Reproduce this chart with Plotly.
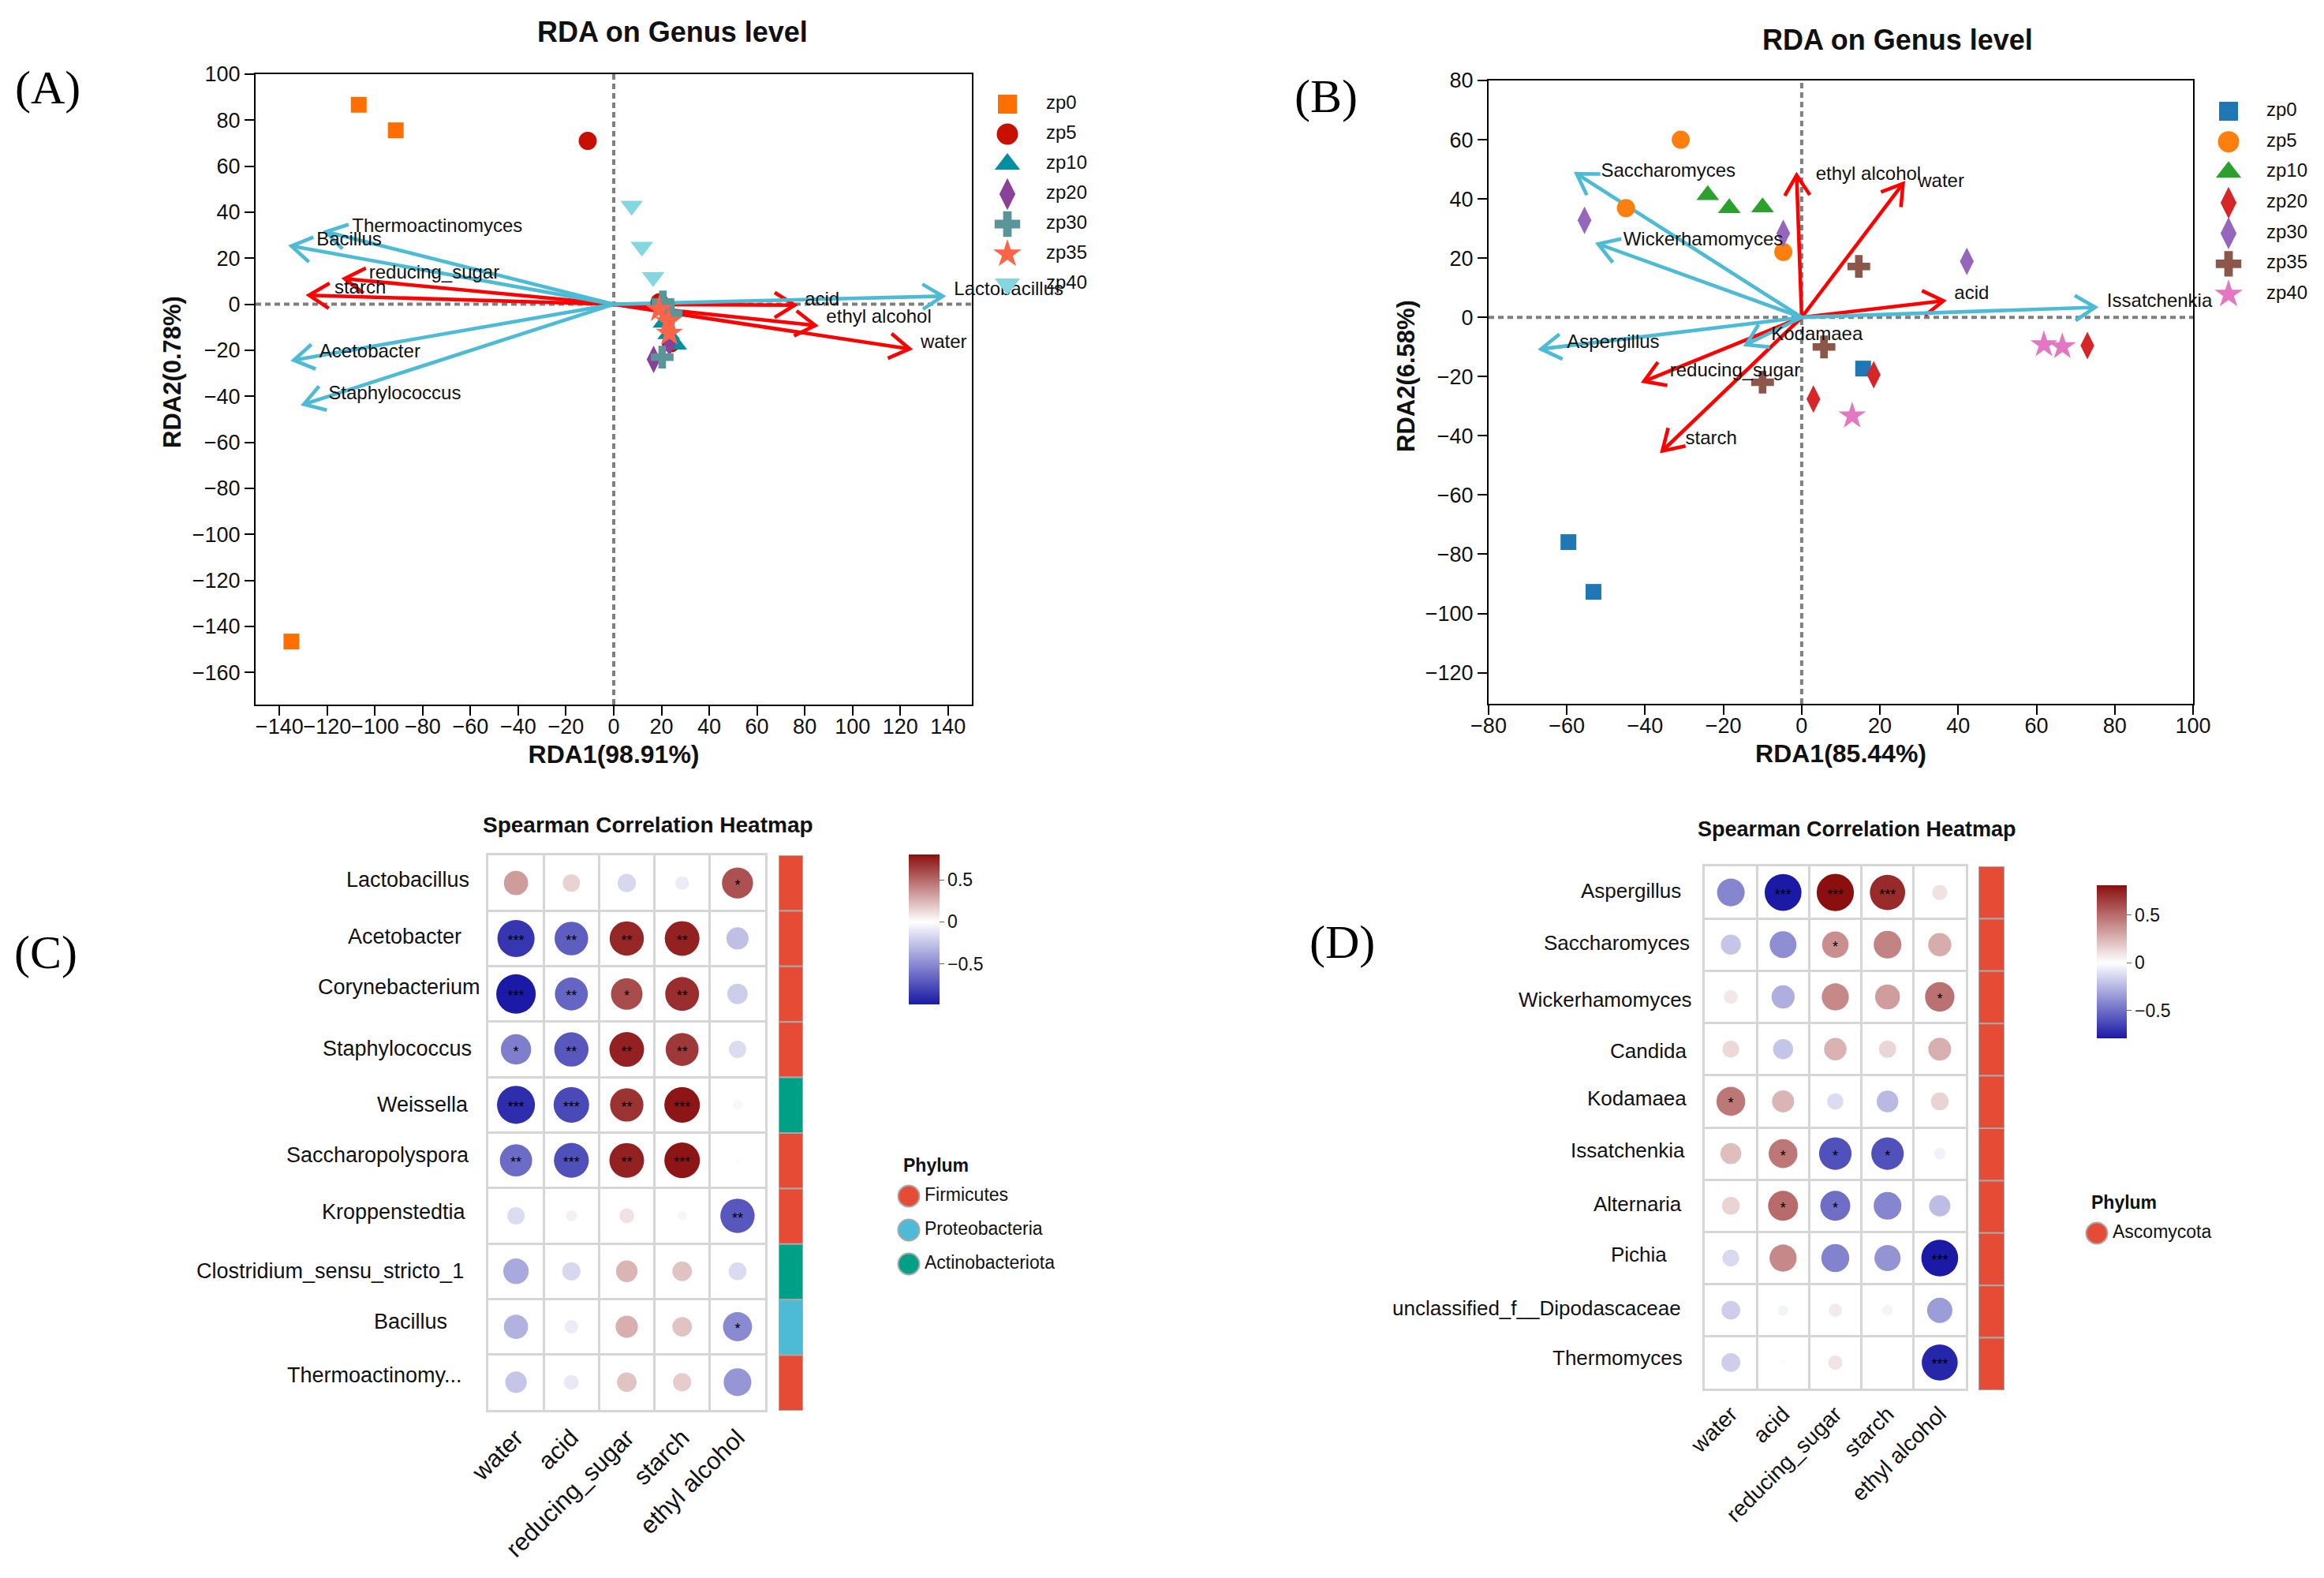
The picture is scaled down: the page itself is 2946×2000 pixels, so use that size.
import math
import plotly.graph_objects as go

W, H = 2946, 2000
SANS = "Liberation Sans"
SERIF = "Liberation Serif"
INK = "#111111"
GROUPS = ["zp0", "zp5", "zp10", "zp20", "zp30", "zp35", "zp40"]

# ---- Panel A ----
A_X = [[-106.8, -91.3, -135.0], [-10.9, 19.2, 24.0], [21.0, 26.0, 23.0], [16.7, 23.3, 23.0],
       [20.3, 20.6, 24.0], [19.0, 22.9, 23.3], [7.5, 11.8, 16.5]]
A_Y = [[86.7, 75.6, -146.6], [71.0, 0.9, -17.0], [-8.0, -17.5, -13.0], [-24.0, -16.6, -12.0],
       [-23.0, 1.0, -4.0], [-2.3, -7.5, -12.6], [42.8, 25.0, 11.8]]
A_COLORS = ["#FF6F00", "#C71000", "#008EA0", "#8A4198", "#5A9599", "#FF6348", "#84D7E1"]
A_ENV = ["acid", "ethyl alcohol", "water", "reducing_sugar", "starch"]
A_ENV_X = [75.8, 84.4, 123.9, -112.7, -127.6]
A_ENV_Y = [-0.4, -9.2, -19.4, 11.1, 3.9]
A_ENV_LX = [80.0, 89.0, 128.5, -102.5, -117.0]
A_ENV_LY = [1.7, -6.0, -17.0, 13.3, 6.6]
A_TAXA = ["Lactobacillus", "Thermoactinomyces", "Bacillus", "Acetobacter", "Staphylococcus"]
A_TAXA_X = [137.8, -120.5, -135.0, -134.0, -129.8]
A_TAXA_Y = [3.5, 31.5, 25.3, -24.3, -43.5]
A_TAXA_LX = [142.5, -109.6, -124.5, -123.3, -119.5]
A_TAXA_LY = [5.9, 33.6, 27.5, -21.0, -39.3]

# ---- Panel B ----
B_X = [[-59.6, -53.2, 15.7], [-30.9, -44.9, -4.7], [-24.0, -18.5, -10.0], [73.0, 18.4, 3.0],
       [-55.5, -4.7, 42.2], [14.6, 5.7, -10.0], [61.9, 66.6, 12.9]]
B_Y = [[-75.9, -92.7, -17.3], [60.0, 36.9, 22.1], [41.3, 36.9, 37.2], [-9.5, -19.4, -27.6],
       [32.8, 28.4, 18.9], [17.2, -10.0, -21.9], [-9.2, -9.9, -33.3]]
B_COLORS = ["#1f77b4", "#ff7f0e", "#2ca02c", "#d62728", "#9467bd", "#8c564b", "#e377c2"]
B_ENV = ["ethyl alcohol", "water", "acid", "reducing_sugar", "starch"]
B_ENV_X = [-1.3, 25.9, 36.2, -40.3, -35.6]
B_ENV_Y = [48.0, 45.2, 5.6, -21.6, -45.1]
B_ENV_LX = [3.6, 29.7, 39.0, -33.7, -29.7]
B_ENV_LY = [48.0, 45.6, 7.7, -18.2, -41.3]
B_TAXA = ["Saccharomyces", "Wickerhamomyces", "Issatchenkia", "Aspergillus", "Kodamaea"]
B_TAXA_X = [-57.5, -52.0, 75.0, -66.6, -14.2]
B_TAXA_Y = [48.5, 24.8, 3.4, -10.7, -9.2]
B_TAXA_LX = [-51.3, -45.6, 78.0, -60.0, -7.8]
B_TAXA_LY = [49.1, 25.9, 5.1, -8.7, -6.0]

# ---- Heatmaps ----
ENV_FACTORS = ["water", "acid", "reducing_sugar", "starch", "ethyl alcohol"]
C_ROWS = ["Lactobacillus", "Acetobacter", "Corynebacterium", "Staphylococcus", "Weissella",
          "Saccharopolyspora", "Kroppenstedtia", "Clostridium_sensu_stricto_1", "Bacillus", "Thermoactinomy..."]
C_R = [[0.33, 0.15, -0.17, -0.08, 0.58],
       [-0.86, -0.69, 0.72, 0.74, -0.27],
       [-0.98, -0.66, 0.60, 0.70, -0.22],
       [-0.55, -0.72, 0.74, 0.66, -0.15],
       [-0.90, -0.78, 0.68, 0.78, -0.03],
       [-0.63, -0.75, 0.74, 0.78, -0.01],
       [-0.15, 0.05, 0.10, 0.03, -0.72],
       [-0.37, -0.17, 0.25, 0.20, -0.16],
       [-0.33, -0.08, 0.27, 0.20, -0.50],
       [-0.25, -0.10, 0.20, 0.17, -0.45]]
C_SIG = [["", "", "", "", "*"],
         ["***", "**", "**", "**", ""],
         ["***", "**", "*", "**", ""],
         ["*", "**", "**", "**", ""],
         ["***", "***", "**", "***", ""],
         ["**", "***", "**", "***", ""],
         ["", "", "", "", "**"],
         ["", "", "", "", ""],
         ["", "", "", "", "*"],
         ["", "", "", "", ""]]
C_PHYLUM = ["Firmicutes", "Firmicutes", "Firmicutes", "Firmicutes", "Actinobacteriota",
            "Firmicutes", "Firmicutes", "Actinobacteriota", "Proteobacteria", "Firmicutes"]
C_PHYLA = ["Firmicutes", "Proteobacteria", "Actinobacteriota"]

D_ROWS = ["Aspergillus", "Saccharomyces", "Wickerhamomyces", "Candida", "Kodamaea", "Issatchenkia",
          "Alternaria", "Pichia", "unclassified_f__Dipodascaceae", "Thermomyces"]
D_R = [[-0.42, -0.79, 0.81, 0.72, 0.10],
       [-0.20, -0.39, 0.38, 0.42, 0.28],
       [0.08, -0.28, 0.40, 0.33, 0.48],
       [0.13, -0.20, 0.26, 0.14, 0.27],
       [0.46, 0.25, -0.12, -0.24, 0.15],
       [0.22, 0.46, -0.60, -0.60, -0.05],
       [0.15, 0.50, -0.50, -0.42, -0.23],
       [-0.13, 0.40, -0.43, -0.37, -0.79],
       [-0.17, -0.04, 0.07, 0.04, -0.34],
       [-0.17, -0.01, 0.09, -0.004, -0.75]]
D_SIG = [["", "***", "***", "***", ""],
         ["", "", "*", "", ""],
         ["", "", "", "", "*"],
         ["", "", "", "", ""],
         ["*", "", "", "", ""],
         ["", "*", "*", "*", ""],
         ["", "*", "*", "", ""],
         ["", "", "", "", "***"],
         ["", "", "", "", ""],
         ["", "", "", "", "***"]]
D_PHYLUM = ["Ascomycota"] * 10
D_PHYLA = ["Ascomycota"]
PHYLUM_COLORS = {"Firmicutes": "#E64B35", "Proteobacteria": "#4DBBD5",
                 "Actinobacteriota": "#00A087", "Ascomycota": "#E64B35"}

A_SYMBOLS = ["square", "circle", "triangle-up", "diamond-tall", "cross", "star", "triangle-down"]
B_SYMBOLS = ["square", "circle", "triangle-up", "diamond-tall", "diamond-tall", "cross", "star"]
PLOT_SIZE = {"square": 20, "circle": 23, "triangle-up": 25, "triangle-down": 25, "diamond-tall": 25, "cross": 24, "star": 26}
LEG_SIZE = {"square": 24, "circle": 27, "triangle-up": 28, "triangle-down": 28, "diamond-tall": 29, "cross": 27, "star": 27}
RED, BLUE = "#FF0000", "#4DBBD5"

fig = go.Figure()
layout = dict(width=W, height=H, margin=dict(l=0, r=0, t=0, b=0, autoexpand=False), autosize=False,
              paper_bgcolor="white", plot_bgcolor="white", showlegend=False,
              font=dict(family=SANS, color=INK), annotations=[], shapes=[])
n_axes = [0]


def axes(x0, x1, y0, y1, xopts, yopts):
    n_axes[0] += 1
    k = n_axes[0]
    sx = "" if k == 1 else str(k)
    layout["xaxis" + sx] = dict(domain=[x0 / W, x1 / W], anchor="y" + sx, **xopts)
    layout["yaxis" + sx] = dict(domain=[1 - y1 / H, 1 - y0 / H], anchor="x" + sx, **yopts)
    return "x" + sx, "y" + sx


def note(px, py, text, size, bold=False, family=SANS, angle=0, xanchor="center", color=INK):
    layout["annotations"].append(dict(
        xref="paper", yref="paper", x=px / W, y=1 - py / H, text=f"<b>{text}</b>" if bold else text,
        showarrow=False, xanchor=xanchor, yanchor="middle", textangle=angle,
        font=dict(family=family, size=size, color=color)))


def hidden():
    return dict(visible=False, fixedrange=True)


def arrow_traces(xa, ya, tips_x, tips_y, color, sx, sy):
    for tx, ty in zip(tips_x, tips_y):
        fig.add_trace(go.Scatter(x=[0, tx], y=[0, ty], mode="lines", xaxis=xa, yaxis=ya,
                                 line=dict(color=color, width=4.6), hoverinfo="skip"))
        ang = math.atan2(ty * sy, tx * sx)
        hx, hy = [], []
        for da in (math.radians(32), 0, -math.radians(32)):
            length = 30 if da else 0
            hx.append(tx - length * math.cos(ang + da) / sx)
            hy.append(ty - length * math.sin(ang + da) / sy)
        fig.add_trace(go.Scatter(x=hx, y=hy, mode="lines", xaxis=xa, yaxis=ya,
                                 line=dict(color=color, width=4.6), hoverinfo="skip"))


def rda_panel(box, xr, yr, xticks, yticks, xs, ys, colors, symbols, env, taxa, xtitle, title_pos, title, ytitle_pos,
              legend_box):
    x0, x1, y0, y1 = box
    common = dict(showgrid=False, zeroline=False, showline=True, linecolor="black", linewidth=2.2, mirror=True,
                  ticks="outside", ticklen=12, tickwidth=2, tickcolor="black", fixedrange=True,
                  tickfont=dict(family=SANS, size=27, color=INK))
    xa, ya = axes(x0, x1, y0, y1,
                  dict(range=xr, tickvals=xticks, tickangle=0, ticklabelstandoff=-10,
                       title=dict(text=f"<b>{xtitle}</b>", font=dict(family=SANS, size=32, color=INK), standoff=10),
                       **common),
                  dict(range=yr, tickvals=yticks, **common))
    sx = (x1 - x0) / (xr[1] - xr[0])
    sy = (y1 - y0) / (yr[1] - yr[0])
    dot = dict(color="#7f7f7f", width=4, dash="7px,5px")
    fig.add_trace(go.Scatter(x=xr, y=[0, 0], mode="lines", xaxis=xa, yaxis=ya, line=dot, hoverinfo="skip"))
    fig.add_trace(go.Scatter(x=[0, 0], y=yr, mode="lines", xaxis=xa, yaxis=ya, line=dot, hoverinfo="skip"))
    arrow_traces(xa, ya, env[1], env[2], RED, sx, sy)
    arrow_traces(xa, ya, taxa[1], taxa[2], BLUE, sx, sy)
    for name, gx, gy, c, s in zip(GROUPS, xs, ys, colors, symbols):
        fig.add_trace(go.Scatter(x=gx, y=gy, mode="markers", name=name, xaxis=xa, yaxis=ya, cliponaxis=False,
                                 marker=dict(color=c, symbol=s, size=PLOT_SIZE[s], line=dict(width=0))))
    for names, lx, ly in ((env[0], env[3], env[4]), (taxa[0], taxa[3], taxa[4])):
        fig.add_trace(go.Scatter(x=lx, y=ly, text=names, mode="text", textposition="middle right",
                                 xaxis=xa, yaxis=ya, cliponaxis=False, hoverinfo="skip",
                                 textfont=dict(family=SANS, size=24, color=INK)))
    note(title_pos[0], title_pos[1], title, 36, bold=True)
    note(ytitle_pos[0], ytitle_pos[1], ytitle_pos[2], 31, bold=True, angle=-90)
    mx, tx, first, last = legend_box
    step = (last - first) / (len(GROUPS) - 1)
    la, lb = axes(mx, tx, first - step / 2, last + step / 2,
                  dict(range=[0, 1], **hidden()), dict(range=[len(GROUPS) - 0.5, -0.5], **hidden()))
    for i, (name, c, s) in enumerate(zip(GROUPS, colors, symbols)):
        fig.add_trace(go.Scatter(x=[0], y=[i], mode="markers", xaxis=la, yaxis=lb, cliponaxis=False, hoverinfo="skip",
                                 marker=dict(color=c, symbol=s, size=LEG_SIZE[s], line=dict(width=0))))
        fig.add_trace(go.Scatter(x=[1], y=[i], text=[name], mode="text", textposition="middle right",
                                 xaxis=la, yaxis=lb, cliponaxis=False, hoverinfo="skip",
                                 textfont=dict(family=SANS, size=24, color=INK)))


rda_panel((324, 1232, 94, 893), [-150, 150], [-174, 100], list(range(-140, 141, 20)), list(range(-160, 101, 20)),
          A_X, A_Y, A_COLORS, A_SYMBOLS,
          (A_ENV, A_ENV_X, A_ENV_Y, A_ENV_LX, A_ENV_LY),
          (A_TAXA, A_TAXA_X, A_TAXA_Y, A_TAXA_LX, A_TAXA_LY), "RDA1(98.91%)", (852, 41), "RDA on Genus level",
          (218, 472, "RDA2(0.78%)"), (1277, 1326, 132, 360))
rda_panel((1887, 2780, 102, 892), [-80, 100], [-130.5, 80], list(range(-80, 101, 20)), list(range(-120, 81, 20)),
          B_X, B_Y, B_COLORS, B_SYMBOLS,
          (B_ENV, B_ENV_X, B_ENV_Y, B_ENV_LX, B_ENV_LY),
          (B_TAXA, B_TAXA_X, B_TAXA_Y, B_TAXA_LX, B_TAXA_LY), "RDA1(85.44%)", (2405, 50), "RDA on Genus level",
          (1783, 477, "RDA2(6.58%)"), (2825, 2873, 141, 373))


def heat_panel(grid, bar, rows, r, sig, phylum, cax, k, label_dx, label_dy, label_size, tick_size, title):
    x0, x1, y0, y1 = grid
    grid_style = dict(showgrid=False, zeroline=False, showline=True, linecolor="#d6d6d6", linewidth=2.5, mirror=True,
                      fixedrange=True,
                      minor=dict(tickmode="linear", tick0=0.5, dtick=1, showgrid=True, gridcolor="#d6d6d6",
                                 gridwidth=2.5, ticks=""))
    xa, ya = axes(x0, x1, y0, y1,
                  dict(range=[-0.5, 4.5], tickmode="array", tickvals=list(range(5)), ticktext=ENV_FACTORS,
                       tickangle=-45, ticks="outside", ticklen=4, ticklabelstandoff=-2, tickcolor="rgba(0,0,0,0)",
                       tickfont=dict(family=SANS, size=tick_size, color=INK), **grid_style),
                  dict(range=[9.5, -0.5], tickmode="array", tickvals=list(range(10)), showticklabels=False,
                       ticks="", **grid_style))
    xs, ys, vals, sizes, st_x, st_y, st_t = [], [], [], [], [], [], []
    for i, row in enumerate(r):
        for j, v in enumerate(row):
            xs.append(j)
            ys.append(i)
            vals.append(v)
            sizes.append(4 + k * math.sqrt(abs(v)))
            if sig[i][j]:
                st_x.append(j)
                st_y.append(i + 0.06)
                st_t.append(sig[i][j])
    fig.add_trace(go.Scatter(x=xs, y=ys, mode="markers", xaxis=xa, yaxis=ya,
                             marker=dict(color=vals, size=sizes, opacity=1, coloraxis=cax, line=dict(width=0))))
    fig.add_trace(go.Scatter(x=st_x, y=st_y, text=st_t, mode="text", xaxis=xa, yaxis=ya, hoverinfo="skip",
                             textposition="middle center", textfont=dict(family=SANS, size=18, color="black")))
    for i, name in enumerate(rows):
        cy = y0 + (i + 0.5) * (y1 - y0) / 10
        note(x0 - label_dx[i], cy + label_dy[i], name, label_size, xanchor="right")
    ba, bb = axes(bar[0], bar[1], y0, bar[2], dict(range=[0, 1], **hidden()), dict(range=[9.5, -0.5], **hidden()))
    fig.add_trace(go.Bar(x=[1] * 10, y=list(range(10)), orientation="h", width=1, xaxis=ba, yaxis=bb,
                         marker=dict(color=[PHYLUM_COLORS[p] for p in phylum], line=dict(color="#a8a8a8", width=2))))
    note(title[0], title[1], title[2], title[3], bold=True)


C_DX = [22, 32, 8, 19, 23, 22, 26, 29, 50, 31]
C_DY = [-4.5, -2.5, -9, -1.3, -0.6, -7, -5, -0.6, -7, -9]
D_DX = [28, 17, 14, 21, 21, 23, 27, 46, 28, 26]
D_DY = [-2.5, -2.5, 3, 2.5, -4, -4.5, -2, -5, -3, -6]
heat_panel((619, 970, 1084, 1787), (987, 1018, 1788), C_ROWS, C_R, C_SIG, C_PHYLUM, "coloraxis", 46.5,
           C_DX, C_DY, 27, 31, (821, 1045, "Spearman Correlation Heatmap", 28))
heat_panel((2161, 2492, 1098, 1760), (2508, 2541, 1762), D_ROWS, D_R, D_SIG, D_PHYLUM, "coloraxis2", 48,
           D_DX, D_DY, 26, 28, (2354, 1051, "Spearman Correlation Heatmap", 27))


def cax_layout(cmin, cmax, x0, y0, height, thick):
    return dict(cmin=cmin, cmax=cmax,
                colorscale=[[0, "#1a1aa6"], [-cmin / (cmax - cmin), "#ffffff"], [1, "#8b0f0f"]],
                colorbar=dict(x=x0 / W, xanchor="left", y=1 - y0 / H, yanchor="top", len=height, lenmode="pixels",
                              thickness=thick, thicknessmode="pixels", xpad=0, ypad=0, outlinewidth=0,
                              tickmode="array", tickvals=[-0.5, 0, 0.5], ticktext=["\u22120.5", "0", "0.5"],
                              ticks="outside", ticklen=6, tickcolor="#666666",
                              tickfont=dict(family=SANS, size=23, color=INK)))


layout["coloraxis"] = cax_layout(-0.98, 0.8, 1152, 1083, 190, 39)
layout["coloraxis2"] = cax_layout(-0.79, 0.81, 2658, 1122, 194, 38)


def phylum_legend(mx, tx, title_y, first, step, phyla):
    note(mx - 9, title_y, "Phylum", 23, bold=True, xanchor="left")
    la, lb = axes(mx, tx, first - step / 2, first + step * (len(phyla) - 0.5),
                  dict(range=[0, 1], **hidden()), dict(range=[len(phyla) - 0.5, -0.5], **hidden()))
    for i, p in enumerate(phyla):
        fig.add_trace(go.Scatter(x=[0], y=[i], mode="markers", xaxis=la, yaxis=lb, cliponaxis=False, hoverinfo="skip",
                                 marker=dict(color=PHYLUM_COLORS[p], size=27, line=dict(color="#a8a8a8", width=2))))
        fig.add_trace(go.Scatter(x=[1], y=[i], text=[p], mode="text", textposition="middle right", xaxis=la, yaxis=lb,
                                 cliponaxis=False, hoverinfo="skip",
                                 textfont=dict(family=SANS, size=23, color=INK)))


phylum_legend(1152, 1172, 1477, 1516, 43, C_PHYLA)
phylum_legend(2658, 2678, 1524, 1563, 43, D_PHYLA)

for px, py, letter in ((60, 111, "(A)"), (1681, 122, "(B)"), (58, 1207, "(C)"), (1701, 1194, "(D)")):
    note(px, py, letter, 60, family=SERIF, color="black")

fig.update_layout(**layout)
fig.write_html("out.html", post_script="document.body.style.margin='0';", config={"displayModeBar": False})
